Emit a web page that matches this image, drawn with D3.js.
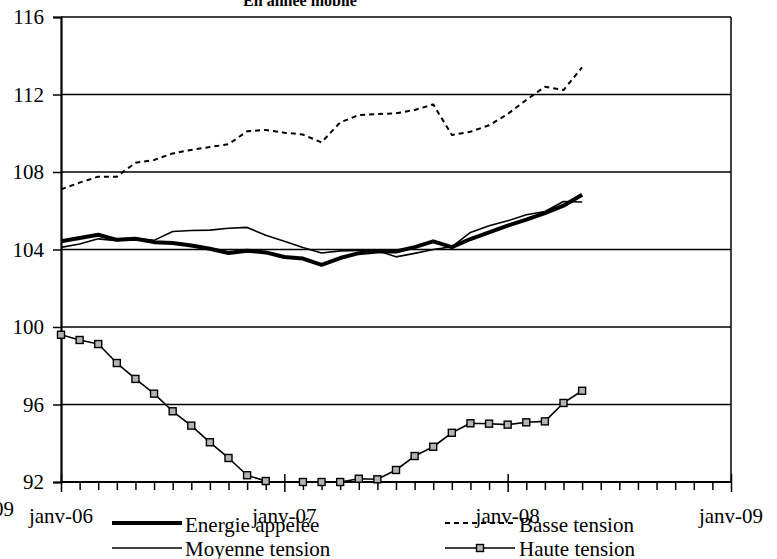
<!DOCTYPE html>
<html>
<head>
<meta charset="utf-8">
<script src="https://cdn.jsdelivr.net/npm/d3@7"></script>
<style>
  body { margin: 0; background: #fff; }
  text { font-family: "Liberation Serif", "Times New Roman", serif; fill: #000; }
</style>
</head>
<body>
<script>
// month categories, janv-06 .. janv-09
const monthNames = ["janv", "févr", "mars", "avr", "mai", "juin", "juil", "août", "sept", "oct", "nov", "déc"];
const years = ["06", "07", "08"];
const months = years.flatMap(y => monthNames.map(m => m + "-" + y)).concat(["janv-09"]);
const yearLabels = ["janv-06", "janv-07", "janv-08", "janv-09"];
const yTicks = [92, 96, 100, 104, 108, 112, 116];

// series values, janv-06 .. mai-08
const energie = [104.42, 104.59, 104.76, 104.50, 104.55, 104.38, 104.33, 104.21, 104.04, 103.82,
  103.94, 103.85, 103.61, 103.53, 103.21, 103.56, 103.81, 103.90, 103.90, 104.12,
  104.42, 104.12, 104.54, 104.88, 105.23, 105.54, 105.88, 106.26, 106.83];
const basse = [107.11, 107.45, 107.76, 107.76, 108.48, 108.62, 108.96, 109.14, 109.29, 109.43,
  110.10, 110.17, 110.03, 109.93, 109.53, 110.56, 110.94, 110.99, 111.03, 111.20,
  111.49, 109.91, 110.08, 110.41, 110.99, 111.72, 112.40, 112.23, 113.40];
const moyenne = [104.11, 104.28, 104.55, 104.45, 104.59, 104.47, 104.93, 104.98, 105.00, 105.10,
  105.14, 104.73, 104.42, 104.10, 103.82, 103.93, 103.95, 103.95, 103.62, 103.80,
  104.00, 104.14, 104.88, 105.23, 105.48, 105.79, 105.96, 106.48, 106.45];
const haute = [99.60, 99.33, 99.12, 98.14, 97.32, 96.56, 95.65, 94.91, 94.05, 93.24,
  92.35, 92.05, 91.90, 92.00, 92.00, 92.00, 92.17, 92.14, 92.62, 93.34,
  93.82, 94.54, 95.03, 95.01, 94.96, 95.08, 95.13, 96.08, 96.71];

const series = [
  { name: "Energie appelée", values: energie, width: 4, dash: null, marker: false },
  { name: "Basse tension", values: basse, width: 2, dash: "5,4", marker: false },
  { name: "Moyenne tension", values: moyenne, width: 1.6, dash: null, marker: false },
  { name: "Haute tension", values: haute, width: 1.6, dash: null, marker: true }
];

const width = 777, height = 559;
const margin = { left: 61, right: 731, top: 17, bottom: 482 };

const svg = d3.select("body").append("svg")
    .attr("width", width)
    .attr("height", height);

const x = d3.scalePoint().domain(months).range([margin.left, margin.right]);
const y = d3.scaleLinear().domain([92, 116]).range([margin.bottom, margin.top]);

// title, cut at the top edge
svg.append("text")
    .attr("x", 300)
    .attr("y", 6)
    .attr("text-anchor", "middle")
    .style("font-size", "16px")
    .style("font-weight", "bold")
    .text("En année mobile");

// gridlines
svg.append("g")
  .selectAll("line")
  .data(yTicks.filter(d => d > 92))
  .join("line")
    .attr("x1", margin.left)
    .attr("x2", margin.right)
    .attr("y1", d => y(d))
    .attr("y2", d => y(d))
    .attr("stroke", "#000")
    .attr("stroke-width", 1.5);

// right border
svg.append("line")
    .attr("x1", margin.right).attr("x2", margin.right)
    .attr("y1", margin.top).attr("y2", margin.bottom)
    .attr("stroke", "#000")
    .attr("stroke-width", 1.5);

// y axis
const yAxis = svg.append("g")
    .attr("transform", `translate(${margin.left},0)`)
    .call(d3.axisLeft(y).tickValues(yTicks).tickSize(8).tickFormat(d3.format("d")));
yAxis.select(".domain").attr("stroke-width", 2.2);
yAxis.selectAll(".tick line").attr("stroke-width", 1.5);
yAxis.selectAll(".tick text")
    .attr("x", -17)
    .attr("dy", "0.33em")
    .style("font-size", "21px");

// x axis
const xAxis = svg.append("g")
    .attr("transform", `translate(0,${margin.bottom})`)
    .call(d3.axisBottom(x).tickValues(months).tickSize(8).tickFormat(""));
xAxis.select(".domain").attr("stroke-width", 2.2).attr("d", `M${margin.left},0H${margin.right}`);
xAxis.selectAll(".tick line")
    .attr("stroke-width", 1.5)
    .attr("y1", d => yearLabels.includes(d) ? -8 : 0)
    .attr("y2", d => yearLabels.includes(d) ? 10 : 8);

svg.append("g")
  .selectAll("text")
  .data(yearLabels)
  .join("text")
    .attr("x", d => x(d))
    .attr("y", 523)
    .attr("text-anchor", "middle")
    .style("font-size", "21px")
    .text(d => d);

// stray label cut at the left edge
svg.append("text")
    .attr("x", 14)
    .attr("y", 516)
    .attr("text-anchor", "end")
    .style("font-size", "21px")
    .text("janv-09");

// lines
svg.append("clipPath").attr("id", "plot")
  .append("rect")
    .attr("x", margin.left).attr("y", margin.top)
    .attr("width", margin.right - margin.left).attr("height", margin.bottom - margin.top);

const line = d3.line()
    .x((d, i) => x(months[i]))
    .y(d => y(d));

const plot = svg.append("g").attr("clip-path", "url(#plot)");

plot.selectAll("path")
  .data(series)
  .join("path")
    .attr("fill", "none")
    .attr("stroke", "#000")
    .attr("stroke-width", d => d.width)
    .attr("stroke-dasharray", d => d.dash)
    .attr("stroke-linejoin", "round")
    .attr("d", d => line(d.values));

const markerSize = 7;
svg.append("g")
  .selectAll("rect")
  .data(haute.map((v, i) => ({ v, i })).filter(d => d.v >= 92))
  .join("rect")
    .attr("x", d => x(months[d.i]) - markerSize / 2)
    .attr("y", d => y(d.v) - markerSize / 2)
    .attr("width", markerSize)
    .attr("height", markerSize)
    .attr("fill", "#b4b4b4")
    .attr("stroke", "#000")
    .attr("stroke-width", 1.4);

// legend
const legendPos = [
  { lx: 112, ly: 523, tx: 185, ty: 532 },
  { lx: 445, ly: 523, tx: 519, ty: 532 },
  { lx: 112, ly: 548, tx: 185, ty: 556 },
  { lx: 445, ly: 548, tx: 519, ty: 556 }
];

const legend = svg.append("g")
  .selectAll("g")
  .data(series)
  .join("g");

legend.append("line")
    .attr("x1", (d, i) => legendPos[i].lx)
    .attr("x2", (d, i) => legendPos[i].lx + 70)
    .attr("y1", (d, i) => legendPos[i].ly)
    .attr("y2", (d, i) => legendPos[i].ly)
    .attr("stroke", "#000")
    .attr("stroke-width", d => d.width)
    .attr("stroke-dasharray", d => d.dash);

legend.filter(d => d.marker)
  .append("rect")
    .attr("x", legendPos[3].lx + 35 - markerSize / 2)
    .attr("y", legendPos[3].ly - markerSize / 2)
    .attr("width", markerSize)
    .attr("height", markerSize)
    .attr("fill", "#b4b4b4")
    .attr("stroke", "#000")
    .attr("stroke-width", 1.4);

legend.append("text")
    .attr("x", (d, i) => legendPos[i].tx)
    .attr("y", (d, i) => legendPos[i].ty)
    .style("font-size", "21px")
    .text(d => d.name);
</script>
</body>
</html>
